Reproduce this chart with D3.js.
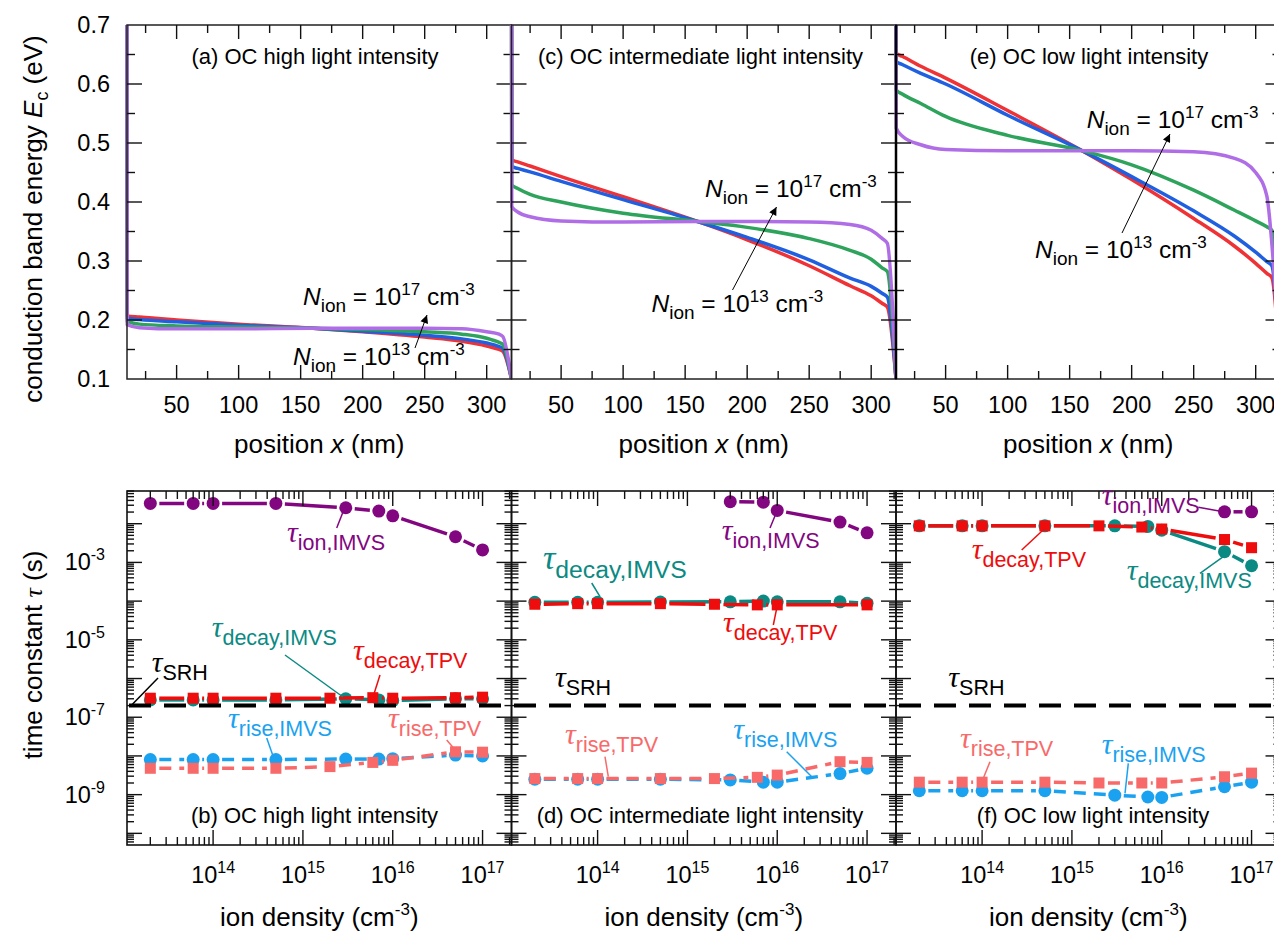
<!DOCTYPE html>
<html><head><meta charset="utf-8">
<script src="https://cdn.jsdelivr.net/npm/d3@7"></script>
<style>body{margin:0;background:#fff}</style>
</head><body><svg id="c" width="1274" height="933"></svg>
<script>
// ---------------- DATA ----------------
// Top panels: conduction band energy vs position (nm)
const posA = [10, 10.2, 20, 50, 100, 160, 200, 250, 280, 300, 310, 313, 320];
const redA    = [0.75, 0.207, 0.205, 0.200, 0.193, 0.186, 0.180, 0.171, 0.164, 0.156, 0.150, 0.147, 0.1];
const blueA   = [0.75, 0.203, 0.201, 0.197, 0.191, 0.186, 0.181, 0.174, 0.168, 0.161, 0.155, 0.152, 0.1];
const greenA  = [0.75, 0.198, 0.193, 0.190, 0.188, 0.186, 0.184, 0.180, 0.176, 0.169, 0.162, 0.159, 0.1];
const purpleA = [0.75, 0.192, 0.187, 0.185, 0.185, 0.186, 0.186, 0.186, 0.185, 0.180, 0.176, 0.172, 0.1];

const posC = [10, 10.2, 15, 25, 50, 100, 160, 200, 250, 283, 300, 309, 313, 320];
const redC    = [0.75, 0.471, 0.468, 0.461, 0.443, 0.409, 0.367, 0.336, 0.292, 0.258, 0.241, 0.228, 0.222, 0.1];
const blueC   = [0.75, 0.460, 0.457, 0.451, 0.435, 0.404, 0.367, 0.340, 0.302, 0.271, 0.257, 0.245, 0.239, 0.1];
const greenC  = [0.75, 0.429, 0.423, 0.413, 0.400, 0.381, 0.367, 0.357, 0.338, 0.318, 0.303, 0.288, 0.282, 0.1];
const purpleC = [0.75, 0.392, 0.383, 0.375, 0.368, 0.366, 0.367, 0.367, 0.366, 0.362, 0.352, 0.338, 0.330, 0.1];

const posE = [10, 10.2, 15, 30, 50, 100, 160, 200, 250, 283, 300, 309, 313, 320];
const redE    = [0.75, 0.652, 0.647, 0.630, 0.610, 0.555, 0.487, 0.438, 0.372, 0.325, 0.296, 0.279, 0.272, 0.1];
const blueE   = [0.75, 0.638, 0.633, 0.618, 0.600, 0.547, 0.487, 0.443, 0.385, 0.342, 0.315, 0.299, 0.292, 0.1];
const greenE  = [0.75, 0.590, 0.583, 0.567, 0.545, 0.513, 0.487, 0.463, 0.420, 0.386, 0.368, 0.358, 0.352, 0.1];
const purpleE = [0.75, 0.525, 0.512, 0.497, 0.489, 0.487, 0.487, 0.487, 0.485, 0.474, 0.450, 0.410, 0.330, 0.1];

const posTicks = [50, 100, 150, 200, 250, 300];
const energyTicks = [0.1, 0.2, 0.3, 0.4, 0.5, 0.6, 0.7];

// Bottom panels: time constants vs ion density
const nTPV  = [2e13, 6e13, 1e14, 5e14, 2e15, 6e15, 1e16, 5e16, 1e17];
const nIMVS = [2e13, 6e13, 1e14, 5e14, 3e15, 7e15, 1e16, 5e16, 1e17];

const ionB       = [0.0335, 0.0335, 0.0335, 0.0335, 0.0258, 0.0212, 0.016, 0.0046, 0.0021];
const decayIMVSB = [2.8e-7, 2.8e-7, 2.8e-7, 2.8e-7, 3.0e-7, 2.8e-7, 2.7e-7, 3.0e-7, 3.0e-7];
const decayTPVB  = [3.1e-7, 3.1e-7, 3.1e-7, 3.1e-7, 3.1e-7, 3.2e-7, 3.1e-7, 3.2e-7, 3.3e-7];
const riseIMVSB  = [8.1e-9, 8.1e-9, 8.1e-9, 8.1e-9, 8.3e-9, 8.3e-9, 8.5e-9, 1.05e-8, 1.0e-8];
const riseTPVB   = [4.8e-9, 4.8e-9, 4.8e-9, 4.8e-9, 5.3e-9, 6.8e-9, 7.7e-9, 1.28e-8, 1.25e-8];

const nIonD = [3e15, 7e15, 1e16, 5e16, 1e17];
const ionD       = [0.037, 0.036, 0.022, 0.011, 0.0058];
const decayIMVSD = [9.3e-5, 9.3e-5, 9.3e-5, 9.5e-5, 9.6e-5, 1.0e-4, 9.6e-5, 9.6e-5, 8.8e-5];
const nDecayTPVD = [2e13, 6e13, 1e14, 5e14, 2e15, 6e15, 1e16, 1e17];
const decayTPVD  = [8.3e-5, 8.6e-5, 8.6e-5, 8.6e-5, 8.3e-5, 8.0e-5, 8.0e-5, 8.0e-5];
const riseIMVSD  = [2.5e-9, 2.5e-9, 2.5e-9, 2.5e-9, 2.4e-9, 2.1e-9, 2.1e-9, 3.5e-9, 4.8e-9];
const riseTPVD   = [2.6e-9, 2.6e-9, 2.6e-9, 2.6e-9, 2.6e-9, 2.8e-9, 3.2e-9, 7.1e-9, 6.8e-9];

const nIonF = [5e16, 1e17];
const ionF       = [0.0203, 0.0203];
const decayIMVSF = [8.8e-3, 8.8e-3, 8.8e-3, 8.8e-3, 8.8e-3, 8.5e-3, 6.8e-3, 1.9e-3, 8.2e-4];
const decayTPVF  = [8.8e-3, 8.8e-3, 8.8e-3, 8.8e-3, 8.8e-3, 8.2e-3, 7.3e-3, 3.9e-3, 2.4e-3];
const riseIMVSF  = [1.26e-9, 1.26e-9, 1.26e-9, 1.26e-9, 0.97e-9, 0.87e-9, 0.85e-9, 1.6e-9, 2.1e-9];
const riseTPVF   = [2.1e-9, 2.1e-9, 2.1e-9, 2.1e-9, 2.0e-9, 2.0e-9, 2.0e-9, 2.9e-9, 3.6e-9];

const tauSRH = 2e-7;
const densityTickExps = [14, 15, 16, 17];
const tauTickExps = [-3, -5, -7, -9];

// ---------------- LAYOUT / STYLE ----------------
const FONT = "'Liberation Sans', Arial, sans-serif";
const SERIF = "'Liberation Serif', 'DejaVu Serif', serif";
const svg = d3.select("#c");
svg.append("rect").attr("width", 1274).attr("height", 933).attr("fill", "#fff");

const lefts = [127, 511.5, 896], PW = 384.5;
const tY0 = 25, tY1 = 379, bY0 = 491, bY1 = 845;
const yTop = d3.scaleLinear().domain([0.1, 0.7]).range([tY1, tY0]);
const yBot = d3.scaleLog().domain([5e-11, 7e-2]).range([bY1, bY0]);
const xTopS = lefts.map(L => d3.scaleLinear().domain([10, 320]).range([L, L + PW]));
const xBotS = lefts.map(L => d3.scaleLog().domain([1.1e13, 2.1e17]).range([L, L + PW]));

const curveColors = ["#ee3236", "#1f5fe0", "#2ea35b", "#b06ee6"];
const C = {ion: "#82067f", teal: "#0b8a83", red: "#ee0c0c", blue: "#1aa2f0", salmon: "#f86a6a"};

const defs = svg.append("defs");
lefts.forEach((L, i) => {
  defs.append("clipPath").attr("id", "ct" + i).append("rect")
    .attr("x", L - 2).attr("y", tY0).attr("width", PW + 2).attr("height", tY1 - tY0);
  defs.append("clipPath").attr("id", "cb" + i).append("rect")
    .attr("x", L).attr("y", bY0).attr("width", PW).attr("height", bY1 - bY0);
});
defs.append("marker").attr("id", "arr").attr("viewBox", "0 0 10 10")
  .attr("refX", 10).attr("refY", 5).attr("markerWidth", 10).attr("markerHeight", 8)
  .attr("markerUnits", "userSpaceOnUse").attr("orient", "auto")
  .append("path").attr("d", "M0,0 L10,5 L0,10 z").attr("fill", "#000");

function tick(g, x1, y1, x2, y2) {
  g.append("line").attr("x1", x1).attr("y1", y1).attr("x2", x2).attr("y2", y2)
    .attr("stroke", "#111").attr("stroke-width", 1.4);
}

// ---------------- TOP PANELS ----------------
const topPanels = [
  {pos: posA, series: [redA, blueA, greenA, purpleA], title: "(a) OC high light intensity", tdx: 188,
   n17: [176, 305], n13: [166, 365], arrow: [288, 348, 300, 315]},
  {pos: posC, series: [redC, blueC, greenC, purpleC], title: "(c) OC intermediate light intensity", tdx: 189,
   n17: [193.5, 197], n13: [140, 312], arrow: [221, 290, 265, 207]},
  {pos: posE, series: [redE, blueE, greenE, purpleE], title: "(e) OC low light intensity", tdx: 193,
   n17: [190.7, 128], n13: [139, 258], arrow: [226, 233, 274, 134]}
];

function nLabel(g, x, y, exp) {
  const t = g.append("text").attr("x", x).attr("y", y).attr("font-family", FONT)
    .attr("font-size", 24.5).attr("fill", "#000");
  t.append("tspan").attr("font-style", "italic").text("N");
  t.append("tspan").attr("font-size", 19).attr("dy", 7).text("ion");
  t.append("tspan").attr("dy", -7).text(" = 10");
  t.append("tspan").attr("font-size", 17).attr("dy", -10).text(exp);
  t.append("tspan").attr("dy", 10).text(" cm");
  t.append("tspan").attr("font-size", 17).attr("dy", -10).text("-3");
}

topPanels.forEach((p, i) => {
  const L = lefts[i], x = xTopS[i];
  const g = svg.append("g");
  const line = d3.line().x(d => x(d[0])).y(d => yTop(d[1])).curve(d3.curveMonotoneX);
  const cg = g.append("g").attr("clip-path", `url(#ct${i})`);
  p.series.forEach((s, k) => {
    cg.append("path").attr("d", line(p.pos.map((v, j) => [v, s[j]])))
      .attr("fill", "none").attr("stroke", curveColors[k]).attr("stroke-width", 3.5)
      .attr("stroke-linejoin", "round");
  });
  g.append("rect").attr("x", L).attr("y", tY0).attr("width", PW).attr("height", tY1 - tY0)
    .attr("fill", "none").attr("stroke", "#222").attr("stroke-width", 1.5);
  d3.range(25, 320, 25).forEach(v => {
    const len = v % 50 === 0 ? 14 : 8, px = x(v);
    tick(g, px, tY1, px, tY1 - len); tick(g, px, tY0, px, tY0 + len);
  });
  d3.range(3, 14).forEach(k => {
    const v = k * 0.05; const len = k % 2 === 0 ? 15 : 8, py = yTop(v);
    tick(g, L, py, L + len, py); tick(g, L + PW, py, L + PW - len, py);
  });
  posTicks.forEach(v => g.append("text").attr("x", x(v)).attr("y", 413).attr("text-anchor", "middle")
    .attr("font-family", FONT).attr("font-size", 23.5).text(v));
  if (i === 0) energyTicks.forEach(v => g.append("text").attr("x", 110).attr("y", yTop(v))
    .attr("dy", "0.36em").attr("text-anchor", "end").attr("font-family", FONT).attr("font-size", 23.5).text(v.toFixed(1)));
  g.append("text").attr("x", L + p.tdx).attr("y", 64).attr("text-anchor", "middle")
    .attr("font-family", FONT).attr("font-size", 22).text(p.title);
  nLabel(g, L + p.n17[0], p.n17[1], "17");
  nLabel(g, L + p.n13[0], p.n13[1], "13");
  g.append("line").attr("x1", L + p.arrow[0]).attr("y1", p.arrow[1]).attr("x2", L + p.arrow[2]).attr("y2", p.arrow[3])
    .attr("stroke", "#000").attr("stroke-width", 1).attr("marker-end", "url(#arr)");
  const xl = g.append("text").attr("x", L + PW / 2).attr("y", 453).attr("text-anchor", "middle")
    .attr("font-family", FONT).attr("font-size", 26);
  xl.append("tspan").text("position ");
  xl.append("tspan").attr("font-style", "italic").text("x");
  xl.append("tspan").text(" (nm)");
});
svg.append("line").attr("x1", 896).attr("x2", 896).attr("y1", tY0).attr("y2", tY1).attr("stroke", "#000").attr("stroke-width", 2.5);

const yl = svg.append("text").attr("transform", "translate(42,219) rotate(-90)").attr("text-anchor", "middle")
  .attr("font-family", FONT).attr("font-size", 26);
yl.append("tspan").text("conduction band energy ");
yl.append("tspan").attr("font-style", "italic").text("E");
yl.append("tspan").attr("font-size", 18).attr("dy", 6).text("c");
yl.append("tspan").attr("dy", -6).text(" (eV)");

// ---------------- BOTTOM PANELS ----------------
function tauLabel(g, x, y, sub, color, sc) {
  sc = sc || 1;
  const t = g.append("text").attr("x", x).attr("y", y).attr("fill", color);
  t.append("tspan").attr("font-family", SERIF).attr("font-style", "italic").attr("font-size", 30 * sc)
    .attr("dy", -8 * sc).text("τ");
  t.append("tspan").attr("font-family", FONT).attr("font-size", 21.5 * sc).attr("dy", 8 * sc).text(sub);
}
function leader(g, L, a, color) {
  g.append("line").attr("x1", L + a[0]).attr("y1", a[1]).attr("x2", L + a[2]).attr("y2", a[3])
    .attr("stroke", color).attr("stroke-width", 1.5);
}

const botPanels = [
  {title: "(b) OC high light intensity", tdx: 187.5,
   series: [
     {xs: nIMVS, ys: ionB, c: C.ion, m: "c", dash: false},
     {xs: nIMVS, ys: decayIMVSB, c: C.teal, m: "c", dash: false},
     {xs: nTPV, ys: decayTPVB, c: C.red, m: "s", dash: false},
     {xs: nIMVS, ys: riseIMVSB, c: C.blue, m: "c", dash: true},
     {xs: nTPV, ys: riseTPVB, c: C.salmon, m: "s", dash: true}],
   labels: [
     {sub: "ion,IMVS", c: C.ion, at: [160, 550], ld: [209.7, 528, 216, 512]},
     {sub: "decay,IMVS", c: C.teal, at: [84.7, 645], ld: [158, 655, 216, 697]},
     {sub: "decay,TPV", c: C.red, at: [226, 668], ld: [253, 675, 246, 697]},
     {sub: "SRH", c: "#000", at: [24.7, 680], ld: [31, 678, 4.7, 705]},
     {sub: "rise,IMVS", c: C.blue, at: [101, 736], ld: [139.7, 738, 146.3, 756.7]},
     {sub: "rise,TPV", c: C.salmon, at: [261, 736], ld: [319.7, 740, 329.7, 751.7]}]},
  {title: "(d) OC intermediate light intensity", tdx: 188.5,
   series: [
     {xs: nIonD, ys: ionD, c: C.ion, m: "c", dash: false},
     {xs: nIMVS, ys: decayIMVSD, c: C.teal, m: "c", dash: false},
     {xs: nDecayTPVD, ys: decayTPVD, c: C.red, m: "s", dash: false},
     {xs: nIMVS, ys: riseIMVSD, c: C.blue, m: "c", dash: true},
     {xs: nTPV, ys: riseTPVD, c: C.salmon, m: "s", dash: true}],
   labels: [
     {sub: "ion,IMVS", c: C.ion, at: [210.2, 548], ld: [258.5, 528, 265.2, 511.7]},
     {sub: "decay,IMVS", c: C.teal, at: [31.5, 578], ld: [80.2, 583, 88.5, 596.7], sc: 1.15},
     {sub: "decay,TPV", c: C.red, at: [211.5, 640], ld: [261.8, 625, 265.2, 608.3]},
     {sub: "SRH", c: "#000", at: [43.5, 695]},
     {sub: "rise,TPV", c: C.salmon, at: [53.5, 752], ld: [93.5, 756.7, 96.8, 776.7]},
     {sub: "rise,IMVS", c: C.blue, at: [221.8, 747], ld: [275.2, 751.7, 300.2, 776.7]}]},
  {title: "(f) OC low light intensity", tdx: 197,
   series: [
     {xs: nIonF, ys: ionF, c: C.ion, m: "c", dash: false},
     {xs: nIMVS, ys: decayIMVSF, c: C.teal, m: "c", dash: false},
     {xs: nTPV, ys: decayTPVF, c: C.red, m: "s", dash: false},
     {xs: nIMVS, ys: riseIMVSF, c: C.blue, m: "c", dash: true},
     {xs: nTPV, ys: riseTPVF, c: C.salmon, m: "s", dash: true}],
   labels: [
     {sub: "ion,IMVS", c: C.ion, at: [205.7, 513], ld: [302.3, 507.3, 327.3, 511.7]},
     {sub: "decay,TPV", c: C.red, at: [75.7, 567], ld: [125.7, 550, 149, 528.3]},
     {sub: "decay,IMVS", c: C.teal, at: [230.7, 588], ld: [304, 573.3, 327.3, 556.7]},
     {sub: "SRH", c: "#000", at: [52.3, 695]},
     {sub: "rise,TPV", c: C.salmon, at: [64, 756], ld: [94, 761.7, 87.3, 778.3]},
     {sub: "rise,IMVS", c: C.blue, at: [205.7, 762], ld: [232.3, 763.3, 229, 793.3]}]}
];

const GAP = 9;
botPanels.forEach((p, i) => {
  const L = lefts[i], x = xBotS[i];
  const g = svg.append("g");
  const cg = g.append("g").attr("clip-path", `url(#cb${i})`);
  p.series.forEach(s => {
    const pts = s.xs.map((v, j) => [x(v), yBot(s.ys[j])]);
    for (let j = 0; j < pts.length - 1; j++) {
      const [x0, y0] = pts[j], [x1, y1] = pts[j + 1];
      const d = Math.hypot(x1 - x0, y1 - y0);
      if (d <= 2 * GAP) continue;
      const ux = (x1 - x0) / d, uy = (y1 - y0) / d;
      cg.append("line").attr("x1", x0 + ux * GAP).attr("y1", y0 + uy * GAP)
        .attr("x2", x1 - ux * GAP).attr("y2", y1 - uy * GAP)
        .attr("stroke", s.c).attr("stroke-width", 3.5)
        .attr("stroke-dasharray", s.dash ? "12,8" : null);
    }
    pts.forEach(([px, py]) => {
      if (s.m === "c") cg.append("circle").attr("cx", px).attr("cy", py).attr("r", 6.5).attr("fill", s.c);
      else cg.append("rect").attr("x", px - 5.5).attr("y", py - 5.5).attr("width", 11).attr("height", 11).attr("fill", s.c);
    });
  });
  g.append("rect").attr("x", L).attr("y", bY0).attr("width", PW).attr("height", bY1 - bY0)
    .attr("fill", "none").attr("stroke", "#111").attr("stroke-width", 1.6);
  d3.range(13, 18).forEach(e => d3.range(1, 10).forEach(k => {
    const v = k * Math.pow(10, e);
    if (v < 1.1e13 || v > 2.1e17) return;
    const px = x(v), len = k === 1 ? 15 : 8;
    tick(g, px, bY1, px, bY1 - len); tick(g, px, bY0, px, bY0 + len);
  }));
  d3.range(-11, -1).forEach(e => d3.range(1, 10).forEach(k => {
    const v = k * Math.pow(10, e);
    if (v < 5e-11 || v > 7e-2) return;
    const py = yBot(v), len = k === 1 ? 15 : 7;
    tick(g, L, py, L + len, py); tick(g, L + PW, py, L + PW - len, py);
  }));
  densityTickExps.forEach(e => {
    const t = g.append("text").attr("x", x(Math.pow(10, e))).attr("y", 883).attr("text-anchor", "middle")
      .attr("font-family", FONT).attr("font-size", 23.5);
    t.append("tspan").text("10");
    t.append("tspan").attr("font-size", 16).attr("dy", -10).text(e);
  });
  if (i === 0) tauTickExps.forEach(e => {
    const t = g.append("text").attr("x", 105).attr("y", yBot(Math.pow(10, e)) + 8).attr("text-anchor", "end")
      .attr("font-family", FONT).attr("font-size", 23.5);
    t.append("tspan").text("10");
    t.append("tspan").attr("font-size", 16).attr("dy", -10).text(e);
  });
  g.append("text").attr("x", L + p.tdx).attr("y", 823).attr("text-anchor", "middle")
    .attr("font-family", FONT).attr("font-size", 22).text(p.title);
  p.labels.forEach(lb => {
    tauLabel(g, L + lb.at[0], lb.at[1], lb.sub, lb.c, lb.sc);
    if (lb.ld) leader(g, L, lb.ld, lb.c);
  });
  const xl = g.append("text").attr("x", L + PW / 2).attr("y", 926).attr("text-anchor", "middle")
    .attr("font-family", FONT).attr("font-size", 26);
  xl.append("tspan").text("ion density (cm");
  xl.append("tspan").attr("font-size", 17).attr("dy", -11).text("-3");
  xl.append("tspan").attr("dy", 11).text(")");
});

svg.append("line").attr("x1", 129).attr("x2", 1274).attr("y1", yBot(tauSRH)).attr("y2", yBot(tauSRH))
  .attr("stroke", "#000").attr("stroke-width", 4).attr("stroke-dasharray", "22,13");

const yl2 = svg.append("text").attr("transform", "translate(42,655) rotate(-90)").attr("text-anchor", "middle")
  .attr("font-family", FONT).attr("font-size", 26);
yl2.append("tspan").text("time constant ");
yl2.append("tspan").attr("font-family", SERIF).attr("font-style", "italic").text("τ");
yl2.append("tspan").text(" (s)");
</script></body></html>
